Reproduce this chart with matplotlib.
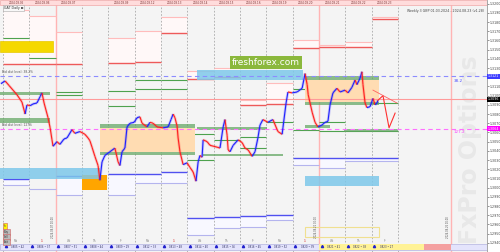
import matplotlib
matplotlib.use("Agg")
import matplotlib.pyplot as plt
import numpy as np
from matplotlib.collections import LineCollection
from matplotlib.patches import Rectangle

nan = np.nan

# price path: x = trading day index, y = price
price_x = [-0.08, 0.08, 0.23, 0.38, 0.53, 0.65, 0.72, 0.84, 0.91, 1.03, 1.14, 1.29, 1.41, 1.48,
           1.56, 1.71, 1.79, 1.86, 1.90, 2.05, 2.16, 2.32, 2.43, 2.62, 2.73, 2.92, 3.11, 3.23,
           3.30, 3.38, 3.49, 3.61, 3.68, 3.76, 3.87, 4.06, 4.25, 4.37, 4.44, 4.52, 4.63, 4.71,
           4.82, 4.98, 5.09, 5.20, 5.28, 5.47, 5.58, 5.70, 5.85, 6.08, 6.27, 6.38, 6.46, 6.53,
           6.61, 6.65, 6.72, 6.84, 6.99, 7.10, 7.22, 7.33, 7.41, 7.48, 7.56, 7.60, 7.75, 7.86,
           8.13, 8.24, 8.36, 8.43, 8.51, 8.55, 8.62, 8.74, 8.93, 9.08, 9.19, 9.31, 9.46, 9.57,
           9.68, 9.76, 9.87, 10.06, 10.25, 10.44, 10.60, 10.63, 10.75, 10.82, 10.98, 11.17,
           11.36, 11.47, 11.55, 11.59, 11.74, 11.85, 11.96, 12.11, 12.23, 12.34, 12.42, 12.53,
           12.68, 12.80, 12.99, 13.10, 13.25, 13.37, 13.44, 13.56, 13.63, 13.67, 13.75, 13.82,
           13.94, 14.05, 14.13, 14.20, 14.24]
price_y = [1.3113, 1.3116, 1.3111, 1.3106, 1.3101, 1.3096, 1.3093, 1.3080, 1.3090, 1.3089,
           1.3091, 1.3092, 1.3099, 1.3103, 1.3092, 1.3076, 1.3065, 1.3052, 1.3045, 1.3050,
           1.3047, 1.3053, 1.3054, 1.3063, 1.3059, 1.3061, 1.3058, 1.3054, 1.3051, 1.3044,
           1.3034, 1.3024, 1.3008, 1.3028, 1.3035, 1.3039, 1.3043, 1.3028, 1.3024, 1.3039,
           1.3043, 1.3066, 1.3070, 1.3071, 1.3076, 1.3077, 1.3070, 1.3066, 1.3071, 1.3070,
           1.3066, 1.3065, 1.3066, 1.3074, 1.3080, 1.3076, 1.3067, 1.3054, 1.3039, 1.3025,
           1.3027, 1.3022, 1.3017, 1.3007, 1.3028, 1.3035, 1.3033, 1.3052, 1.3050, 1.3046,
           1.3044, 1.3043, 1.3066, 1.3074, 1.3057, 1.3041, 1.3039, 1.3046, 1.3052, 1.3049,
           1.3043, 1.3041, 1.3034, 1.3039, 1.3054, 1.3068, 1.3074, 1.3071, 1.3074, 1.3061,
           1.3058, 1.3065, 1.3092, 1.3104, 1.3103, 1.3104, 1.3108, 1.3124, 1.3112, 1.3101,
           1.3082, 1.3071, 1.3066, 1.3068, 1.3071, 1.3072, 1.3090, 1.3103, 1.3108, 1.3104,
           1.3106, 1.3103, 1.3109, 1.3117, 1.3112, 1.3119, 1.3126, 1.3112, 1.3092, 1.3087,
           1.3088, 1.3097, 1.3090, 1.3092, 1.3095]

forecast_x = [14.24, 14.43, 14.66, 14.89]
forecast_y = [1.3095, 1.3100, 1.3065, 1.3081]
drift_x = [14.05, 14.96]
drift_y = [1.3106, 1.3092]

# daily levels (one entry per day)
res_top = [1.3193, 1.3187, 1.3169, nan, 1.3163, 1.3170, 1.3186, 1.3127, 1.3130, 1.3095, 1.3114, 1.3161, 1.3155, 1.3158, 1.3186]
res_bot = [1.3134, 1.3134, 1.3134, nan, 1.3136, 1.3137, 1.3168, 1.3118, 1.3120, 1.3090, 1.3091, 1.3152, 1.3153, 1.3153, 1.3183]
green_a = [1.3163, 1.3141, 1.3104, nan, 1.3105, 1.3117, 1.3117, 1.3058, 1.3052, 1.3055, 1.3071, 1.3107, 1.3071, 1.3062, 1.3092]
green_b = [nan, nan, 1.3101, nan, 1.3089, 1.3107, 1.3107, 1.3030, nan, 1.3043, nan, 1.3063, 1.3062, nan, 1.3062]
sup_top = [1.3009, nan, 1.3013, nan, 1.3015, 1.3015, 1.3017, 1.2967, 1.2968, 1.2969, 1.2970, 1.3032, 1.3032, 1.3032, 1.3032]
sup_bot = [1.3003, 1.2999, 1.2992, nan, 1.2992, 1.3005, 1.3005, 1.2949, 1.2956, 1.2957, 1.2965, 1.3025, 1.3021, 1.3029, 1.3029]

day_dates = ["2024.08.05", "2024.08.06", "2024.08.07", "", "2024.08.09", "2024.08.12", "2024.08.13",
             "2024.08.14", "2024.08.15", "2024.08.16", "2024.08.19", "2024.08.20", "2024.08.21",
             "2024.08.22", "2024.08.23"]
day_short = ["Mo", "Tu", "We", "Th", "Fr", "Mo", "Tu", "We", "Th", "Fr", "Mo", "Tu", "We", "Th", "Fr"]
bar_labels = ["0805 • 42", "0806 • 37", "0807 • 51", "0808 • 44", "0809 • 29", "0812 • 33",
              "0813 • 48", "0814 • 40", "0815 • 36", "0816 • 45", "0819 • 52", "0820 • 39",
              "0821 • 41", "0822 • 38", "0823 • 27"]

# zones: x0, x1, lo, hi
green_x0 = [-0.11, -0.11, 3.68, 3.68, 7.37, 7.60, 11.47, 11.47, 11.47, 12.95]
green_x1 = [1.79, 1.79, 7.29, 7.29, 10.03, 10.63, 12.42, 14.28, 14.28, 15.00]
green_lo = [1.3101, 1.3070, 1.3065, 1.3035, 1.3063, 1.3034, 1.3065, 1.3117, 1.3090, 1.3061]
green_hi = [1.3104, 1.3076, 1.3069, 1.3039, 1.3066, 1.3037, 1.3068, 1.3121, 1.3093, 1.3064]
peach_x0 = [3.68, 11.47]
peach_x1 = [7.29, 14.28]
peach_lo = [1.3039, 1.3093]
peach_hi = [1.3065, 1.3117]
cyan_x0 = [-0.11, 7.37, 11.47]
cyan_x1 = [3.68, 11.39, 14.28]
cyan_lo = [1.3009, 1.3117, 1.3002]
cyan_hi = [1.3021, 1.3128, 1.3013]
orange_box = (3.00, 3.95, 1.2997, 1.3014)
yellow_box = (-0.11, 1.90, 1.3147, 1.3159)
yellow_frame = (11.47, 14.28, 1.2946, 1.2957)

last_price = 1.3096
fib_382 = 1.3121
fib_127 = 1.3064
pink_days = [2, 12, 17]
tick_vals = [1.2940, 1.2950, 1.2960, 1.2970, 1.2980, 1.2990, 1.3000, 1.3010, 1.3020, 1.3030,
             1.3040, 1.3050, 1.3060, 1.3070, 1.3080, 1.3090, 1.3100, 1.3110, 1.3120, 1.3130,
             1.3140, 1.3150, 1.3160, 1.3170, 1.3180, 1.3190, 1.3200]

fig = plt.figure(figsize=(5, 2.52), dpi=100)
ax = fig.add_axes([0, 0, 0.974, 1])
ax.set_facecolor('#f4f4f4')
ax.set_xlim(-0.114, 18.38)
ax.set_ylim(1.2930, 1.3204)

# day separators
for d in range(16):
    if d in pink_days:
        continue
    ax.axvline(d, color='#a8a8a8', lw=0.6, ls=(0, (2, 2)), zorder=1.5)
for d in pink_days:
    ax.axvline(d, color='#ffb4b4', lw=1.0, zorder=1.5)

# daily resistance / support boxes
for k in range(len(res_top)):
    if not np.isnan(res_top[k]):
        ax.add_patch(Rectangle((k, res_bot[k]), 1, res_top[k] - res_bot[k],
                               fc='#fff8f8', ec='none', zorder=1))
        ax.hlines(res_top[k], k, k + 1, color='#ffbcbc', lw=0.8, zorder=2)
        ax.hlines(res_bot[k], k, k + 1, color='#ee5a5a', lw=1.0, zorder=2)
    if not np.isnan(sup_bot[k]):
        top = sup_top[k] if not np.isnan(sup_top[k]) else sup_bot[k]
        ax.add_patch(Rectangle((k, sup_bot[k]), 1, top - sup_bot[k],
                               fc='#f8f8ff', ec='none', zorder=1))
        ax.hlines(sup_bot[k], k, k + 1, color='#b4b4ee', lw=0.8, zorder=2)
        if not np.isnan(sup_top[k]):
            ax.hlines(sup_top[k], k, k + 1, color='#5050f0', lw=1.0, zorder=2)
    for g in (green_a[k], green_b[k]):
        if not np.isnan(g):
            ax.hlines(g, k, k + 1, color='#4ea24e', lw=0.8, zorder=2)

# zones
for x0, x1, lo, hi in zip(peach_x0, peach_x1, peach_lo, peach_hi):
    ax.add_patch(Rectangle((x0, lo), x1 - x0, hi - lo, fc='#ffdcb2', ec='none', zorder=2.2))
for x0, x1, lo, hi in zip(green_x0, green_x1, green_lo, green_hi):
    ax.add_patch(Rectangle((x0, lo), x1 - x0, hi - lo, fc='#5ea45e', alpha=0.7, ec='none', zorder=2.4))
x0, x1, lo, hi = orange_box
ax.add_patch(Rectangle((x0, lo), x1 - x0, hi - lo, fc='#ffa500', ec='none', zorder=2.3))
for x0, x1, lo, hi in zip(cyan_x0, cyan_x1, cyan_lo, cyan_hi):
    ax.add_patch(Rectangle((x0, lo), x1 - x0, hi - lo, fc='#7ec8ea', alpha=0.85, ec='none', zorder=2.5))
x0, x1, lo, hi = yellow_box
ax.add_patch(Rectangle((x0, lo), x1 - x0, hi - lo, fc='#f5d800', ec='#e8c800', lw=0.5, zorder=2.5))
x0, x1, lo, hi = yellow_frame
ax.add_patch(Rectangle((x0, lo), x1 - x0, hi - lo, fc='none', ec='#f0e090', lw=0.8, zorder=2.5))

# horizontal reference lines
ax.axhline(last_price, color='#ff9a9a', lw=0.8, zorder=2.6)
ax.axhline(fib_382, color='#8c8cff', lw=0.8, ls=(0, (4, 3)), zorder=2.6)
ax.axhline(fib_127, color='#ff70ff', lw=0.8, ls=(0, (4, 3)), zorder=2.6)
ax.text(0.005, fib_382 + 0.0002, "Bid dist level: 38.2%", transform=ax.get_yaxis_transform(),
        fontsize=2.2, color='#555555', va='bottom', zorder=6)
ax.text(0.005, fib_127 + 0.0002, "Bid dist level: 127%", transform=ax.get_yaxis_transform(),
        fontsize=2.2, color='#555555', va='bottom', zorder=6)
ax.text(17.1, fib_382 - 0.0005, "38.2", fontsize=3, color='#5050ff', va='center', zorder=6)
ax.text(17.1, fib_127 - 0.0004, "127.2", fontsize=3, color='#ff40ff', va='center', zorder=6)

# price line, blue up / red down
pts = np.column_stack([price_x, price_y])
segs = np.stack([pts[:-1], pts[1:]], axis=1)
cols = ['#2020ff' if b >= a else '#ff2020' for a, b in zip(price_y[:-1], price_y[1:])]
ax.add_collection(LineCollection(segs, colors=cols, linewidths=2.0, alpha=0.22, zorder=4))
ax.add_collection(LineCollection(segs, colors=cols, linewidths=0.8, zorder=5))
ax.plot(forecast_x, forecast_y, color='#ff3030', lw=0.8, zorder=5)
ax.plot(drift_x, drift_y, color='#ff6060', lw=0.6, zorder=5)

# right price axis
ax.yaxis.tick_right()
ax.set_yticks(tick_vals)
ax.set_yticklabels(["%.4f" % v for v in tick_vals])
ax.tick_params(axis='y', labelsize=2.3, length=1.2, pad=0.5, colors='#444444', width=0.4)
ax.set_xticks([])
for s in ('left', 'top', 'bottom'):
    ax.spines[s].set_visible(False)
ax.spines['right'].set_color('#999999')
ax.spines['right'].set_linewidth(0.6)

ylab = ax.get_yaxis_transform()
for val, fc in ((fib_382, '#3c3cff'), (last_price, '#000000'), (fib_127, '#ff00ff')):
    ax.text(1.002, val, "%.4f" % val, transform=ylab, fontsize=2.3, color='white', va='center',
            ha='left', clip_on=False, zorder=7,
            bbox=dict(boxstyle='square,pad=0.15', fc=fc, ec='none'))

# top date strip
ax.add_patch(Rectangle((0, 0.980), 1, 0.02, transform=ax.transAxes, fc='#ffdcdc',
                       ec='#f0a8a8', lw=0.5, zorder=6))
xlab = ax.get_xaxis_transform()
for k, lab in enumerate(day_dates):
    if lab:
        ax.text(k + 0.5, 0.990, lab, transform=xlab, fontsize=2.0, color='#7a3030',
                ha='center', va='center', zorder=7)

# bottom strip
ax.add_patch(Rectangle((0, 0.008), 1, 0.024, transform=ax.transAxes, fc='#e4e4fc',
                       ec='#b4b4e0', lw=0.5, zorder=6))
ax.add_patch(Rectangle((12.0, 0.008), 4.0, 0.024, transform=xlab, fc='#fff296', ec='none', zorder=6.1))
ax.add_patch(Rectangle((16.0, 0.008), 1.0, 0.024, transform=xlab, fc='#f4a0a0', ec='none', zorder=6.1))
for k, lab in enumerate(bar_labels):
    ax.text(k + 0.55, 0.020, lab, transform=xlab, fontsize=1.9, color='#333366',
            ha='center', va='center', zorder=7)
    ax.plot([k + 0.1], [0.022], transform=xlab, marker='^', ms=1.6, color='#2020cc',
            zorder=7, clip_on=False)
    ax.text(k + 0.5, 0.045, day_short[k], transform=xlab, fontsize=2.0,
            color='#e06060' if k in (1, 6, 11) else '#888888', ha='center', va='center', zorder=7)

# vertical time stamps near the pink lines
for d, lab in ((2, "2024.08.07 00:00"), (12, "2024.08.21 00:00"), (17, "2024.08.26 00:00")):
    ax.text(d - 0.1, 0.10, lab, transform=xlab, fontsize=1.8, color='#555555', rotation=90,
            ha='center', va='center', zorder=6)

# indicator labels and buttons
ax.text(0.008, 0.968, "GAT Daily ⊠", transform=ax.transAxes, fontsize=2.3, color='#333333',
        va='center', zorder=7, bbox=dict(boxstyle='square,pad=0.3', fc='#f8f8f8', ec='#aaaaaa', lw=0.4))
ax.text(0.995, 0.955, "Weekly 3 GBP 01.03.2024 - 2024.08.23 (v1.28)", transform=ax.transAxes,
        fontsize=2.3, color='#444444', ha='right', va='center', zorder=7)
for lab, y, fc in (("h", 0.103, '#fff200'), ("Buy", 0.080, '#bbbbbb'),
                   ("Sell", 0.060, '#bbbbbb'), ("Exit", 0.040, '#bbbbbb')):
    ax.text(0.008, y, lab, transform=ax.transAxes, fontsize=1.9, color='#333333', va='center',
            zorder=7, bbox=dict(boxstyle='square,pad=0.4', fc=fc, ec='#d06060', lw=0.4))

# watermarks
ax.text(0.965, 0.405, "FxPro Options", transform=ax.transAxes, fontsize=17, color='#e8e8e8',
        rotation=90, ha='center', va='center', fontweight='bold', zorder=0.5)
fig.text(0.532, 0.752, "freshforex.com", fontsize=6.5, color='white', ha='center', va='center',
         zorder=10, bbox=dict(boxstyle='square,pad=0.25', fc='#8bb83c', ec='none'))

fig.savefig("out.png", dpi=100)
